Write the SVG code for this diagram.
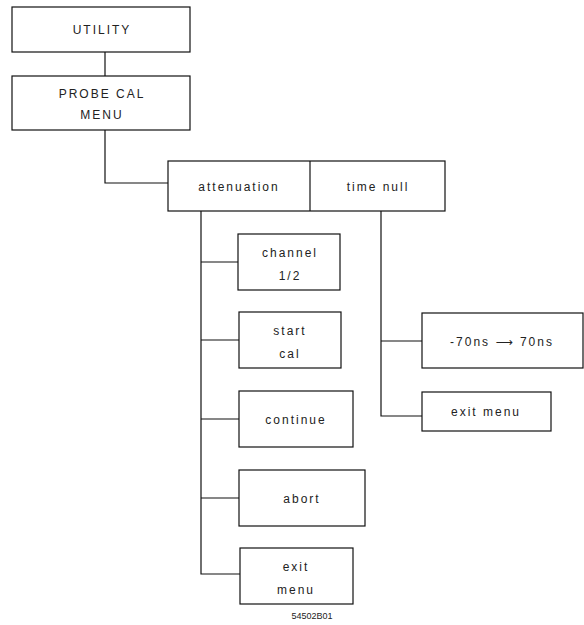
<svg xmlns="http://www.w3.org/2000/svg" width="584" height="625" viewBox="0 0 584 625">
<style>
.box{fill:#fff;stroke:#111;stroke-width:1.2}
.ln{fill:none;stroke:#111;stroke-width:1.2}
text{font-family:"Liberation Sans","DejaVu Sans",sans-serif;font-size:12px;fill:#222;text-anchor:middle;letter-spacing:2px}
.id{font-size:9px;letter-spacing:0}
</style>
<rect width="584" height="625" fill="#fff"/>
<g id="connectors">
<path class="ln" d="M105 52V76"/>
<path class="ln" d="M105 130V183H168"/>
<path class="ln" d="M201 211V574H240M201 262H238M201 340H239M201 419H239M201 498H239"/>
<path class="ln" d="M381 211V416H422M381 341H422"/>
</g>
<g id="utility"><rect class="box" x="12" y="7" width="178" height="45"/><text x="102" y="34">UTILITY</text></g>
<g id="probecal"><rect class="box" x="12" y="76" width="178" height="54"/><text x="102" y="98">PROBE CAL</text><text x="102" y="119">MENU</text></g>
<g id="attenuation"><rect class="box" x="168" y="161" width="277" height="50"/><path class="ln" d="M310 161V211"/><text x="239" y="191">attenuation</text><text x="378" y="191">time null</text></g>
<g id="channel"><rect class="box" x="238" y="234" width="102" height="56"/><text x="290" y="257">channel</text><text x="290" y="280">1/2</text></g>
<g id="startcal"><rect class="box" x="239" y="312" width="102" height="56"/><text x="290" y="335">start</text><text x="290" y="358">cal</text></g>
<g id="continue"><rect class="box" x="239" y="391" width="114" height="56"/><text x="296" y="424">continue</text></g>
<g id="abort"><rect class="box" x="239" y="470" width="126" height="56"/><text x="302" y="503">abort</text></g>
<g id="exitmenu1"><rect class="box" x="240" y="548" width="113" height="56"/><text x="296" y="571">exit</text><text x="296" y="594">menu</text></g>
<g id="range"><rect class="box" x="422" y="313" width="161" height="55"/><text x="502" y="346">-70ns ⟶ 70ns</text></g>
<g id="exitmenu2"><rect class="box" x="422" y="392" width="129" height="39"/><text x="486" y="416">exit menu</text></g>
<text class="id" x="312" y="619">54502B01</text>
</svg>
